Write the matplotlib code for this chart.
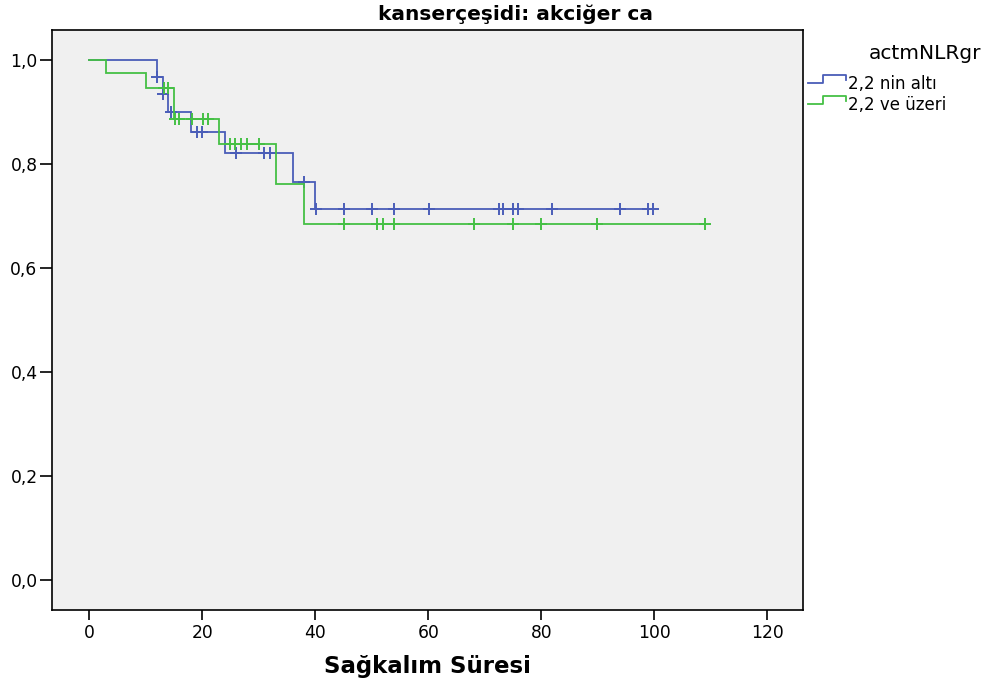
import numpy as np
import matplotlib
matplotlib.use('Agg')
import matplotlib.pyplot as plt
from matplotlib.lines import Line2D

# ---- text ----
title = "kanserçeşidi: akciğer ca"
xlabel = "Sağkalım Süresi"
legend_title = "actmNLRgr"
group_labels = ["2,2 nin altı", "2,2 ve üzeri"]

# ---- data ----
blue_step_t = [0, 12, 13, 14, 18, 24, 36, 40]
blue_step_s = [1.0, 0.967, 0.934, 0.900, 0.862, 0.821, 0.766, 0.713]
blue_censor_t = [12, 13, 14.5, 19.1, 20.0, 26.0, 31.0, 31.9, 38.0, 40.1, 45.1,
                 50.1, 54.0, 60.1, 72.5, 73.2, 74.9, 75.8, 81.9, 93.9, 98.9, 99.8]
blue_end = 99.8

green_step_t = [0, 3, 10, 15, 23, 33, 38]
green_step_s = [1.0, 0.975, 0.947, 0.886, 0.838, 0.762, 0.684]
green_censor_t = [13.2, 13.9, 15.2, 15.9, 18.2, 20.2, 21.0, 24.9, 25.8, 26.8,
                  27.9, 30.0, 45.1, 51.0, 51.9, 54.0, 68.0, 74.9, 79.9, 89.9, 109.0]
green_end = 109.0

xticks = [0, 20, 40, 60, 80, 100, 120]
yticks = [0.0, 0.2, 0.4, 0.6, 0.8, 1.0]
ytick_labels = ["0,0", "0,2", "0,4", "0,6", "0,8", "1,0"]

BLUE = '#4a5db8'
GREEN = '#45c045'

W, H = 993, 687
fig = plt.figure(figsize=(W / 100, H / 100), dpi=100)
fig.patch.set_facecolor('white')

L, R, T, B = 51.7, 803, 30, 610
ax = fig.add_axes([L / W, 1 - B / H, (R - L) / W, (B - T) / H])
ax.set_facecolor('#f0f0f0')


def draw_group(step_t, step_s, end, censor_t, color):
    t = list(step_t) + [end]
    s = list(step_s) + [step_s[-1]]
    ax.step(t, s, where='post', color=color, lw=1.3, solid_joinstyle='miter')
    idx = np.searchsorted(np.array(step_t), np.array(censor_t), side='right') - 1
    cs = np.array(step_s)[idx]
    ax.plot(censor_t, cs, ls='none', marker='+', ms=9, mew=1.4, color=color)


draw_group(blue_step_t, blue_step_s, blue_end, blue_censor_t, BLUE)
draw_group(green_step_t, green_step_s, green_end, green_censor_t, GREEN)

ax.set_xlim(-6.65, 126.3)
ax.set_ylim(-0.0577, 1.0577)
ax.set_xticks(xticks)
ax.set_xticklabels([str(v) for v in xticks])
ax.set_yticks(yticks)
ax.set_yticklabels(ytick_labels)
ax.tick_params(axis='x', length=7.2, width=1.2, pad=3.2, labelsize=12.3, colors='black')
ax.tick_params(axis='y', length=9, width=1.2, pad=1.2, labelsize=12.3, colors='black')
for sp in ax.spines.values():
    sp.set_linewidth(1.2)
    sp.set_color('black')


def px(x, y):
    return (x / W, 1 - y / H)


# title and x label
fig.text(*px(515.5, 19.5), title, ha='center', va='baseline',
         fontsize=14.5, fontweight='bold')
fig.text(*px(427.5, 673), xlabel, ha='center', va='baseline',
         fontsize=16.5, fontweight='bold')

# legend (outside right)
fig.text(*px(869, 59.3), legend_title, ha='left', va='baseline', fontsize=14.5)
legend_rows = [(BLUE, 83.3, 75.0, 89.0), (GREEN, 104.0, 96.0, 109.5)]
for (color, ylow, yhigh, ybase), lab in zip(legend_rows, group_labels):
    xs = [808, 823, 823, 845.7, 845.7]
    ys = [ylow, ylow, yhigh, yhigh, yhigh + 4.5]
    pts = [px(a, b) for a, b in zip(xs, ys)]
    fig.add_artist(Line2D([p[0] for p in pts], [p[1] for p in pts],
                          transform=fig.transFigure, color=color, lw=1.3))
    fig.text(*px(848, ybase), lab, ha='left', va='baseline', fontsize=12)

fig.savefig('out.png', dpi=100)
